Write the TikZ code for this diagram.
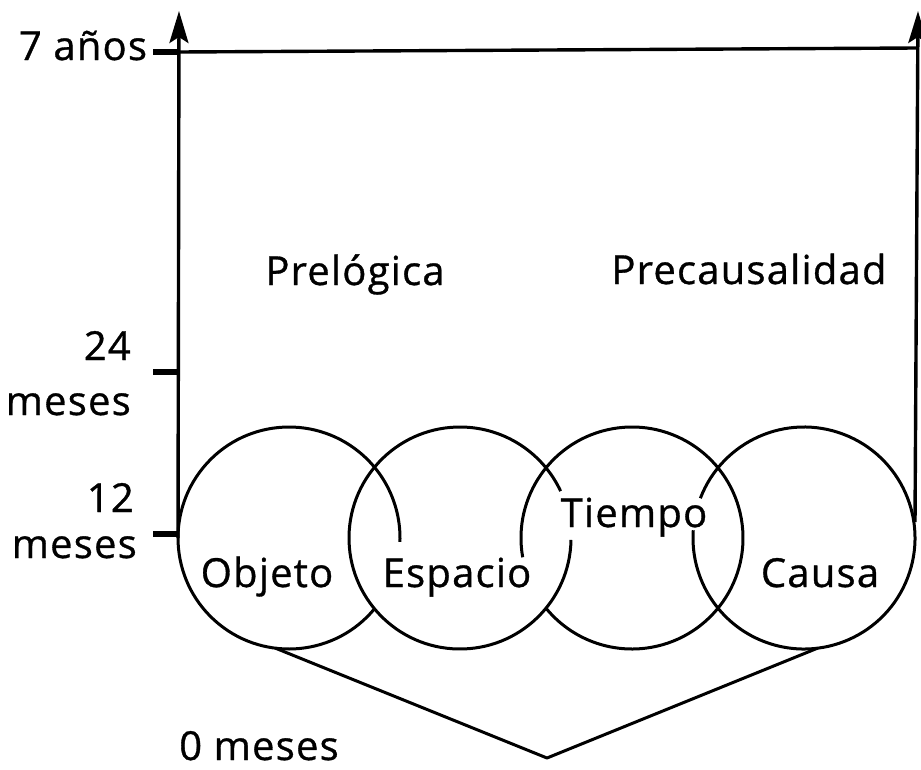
\documentclass[tikz,border=0pt]{standalone}
\usepackage{fontspec}
\newfontfamily\lbl{Open Sans}[LetterSpace=3,FakeBold=0.8]
\usetikzlibrary{arrows.meta}
\begin{document}
\begin{tikzpicture}[x=1pt,y=-1pt,
  txt/.style={inner sep=0pt, font=\lbl\fontsize{40}{40}\selectfont, anchor=base},
  txtr/.style={txt, anchor=base east},
  axisline/.style={line width=3.4pt},
  ring/.style={line width=3pt},
  tickmark/.style={line width=6pt},
  tipup/.style={-{Stealth[length=32pt,width=19pt,inset=6pt]}}]
\useasboundingbox (0,0) rectangle (921,769);
% coordinates
\coordinate (c1) at (289,538);
\coordinate (c2) at (460,538);
\coordinate (c3) at (632,538);
\coordinate (c4) at (804,538);
\coordinate (axb) at (178,538);
\coordinate (axt) at (179,11);
\coordinate (tl) at (179,52);
\coordinate (tr) at (916,48);
\coordinate (rb) at (915,522);
\coordinate (rt) at (918,11);
\coordinate (t7) at (153,52);
\coordinate (t24a) at (153,372);
\coordinate (t24b) at (178,372);
\coordinate (t12a) at (153,534);
\coordinate (t12b) at (178,534);
\coordinate (vb) at (547,758);
% axes
\draw[axisline,tipup] (axb) -- (axt);
\draw[axisline,tipup] (rb) -- (rt);
\draw[axisline] (tl) -- (tr);
\draw[tickmark] (t7) -- (tl);
\draw[tickmark] (t24a) -- (t24b);
\draw[tickmark] (t12a) -- (t12b);
% circles with gaps
\draw[ring] ([shift={(39.4:111)}]c1) arc[start angle=39.4, end angle=362, radius=111];
\draw[ring] ([shift={(1:111)}]c2) arc[start angle=1, end angle=335, radius=111];
\draw[ring] ([shift={(170:111)}]c3) arc[start angle=170, end angle=500.6, radius=111];
\draw[ring] ([shift={(201:111)}]c4) arc[start angle=201, end angle=544, radius=111];
% V lines
\draw[ring,line join=round] ([shift={(97:111)}]c1) -- (vb) -- ([shift={(83:111)}]c4);
% labels
\node[txt] (anos) at (83,60) {7 años};
\node[txtr] (n24) at (131,360) {24};
\node[txtr] (m24) at (131,415) {meses};
\node[txtr] (n12) at (134,512) {12};
\node[txtr] (m12) at (137,558) {meses};
\node[txt] (prelog) at (355,285) {Prelógica};
\node[txt] (precaus) at (749,284) {Precausalidad};
\node[txt] (objeto) at (267,587) {Objeto};
\node[txt] (espacio) at (457,587) {Espacio};
\node[txt] (tiempo) at (634,527) {Tiempo};
\node[txt] (causa) at (820,587) {Causa};
\node[txt] (cero) at (259,760) {0 meses};
\end{tikzpicture}
\end{document}
